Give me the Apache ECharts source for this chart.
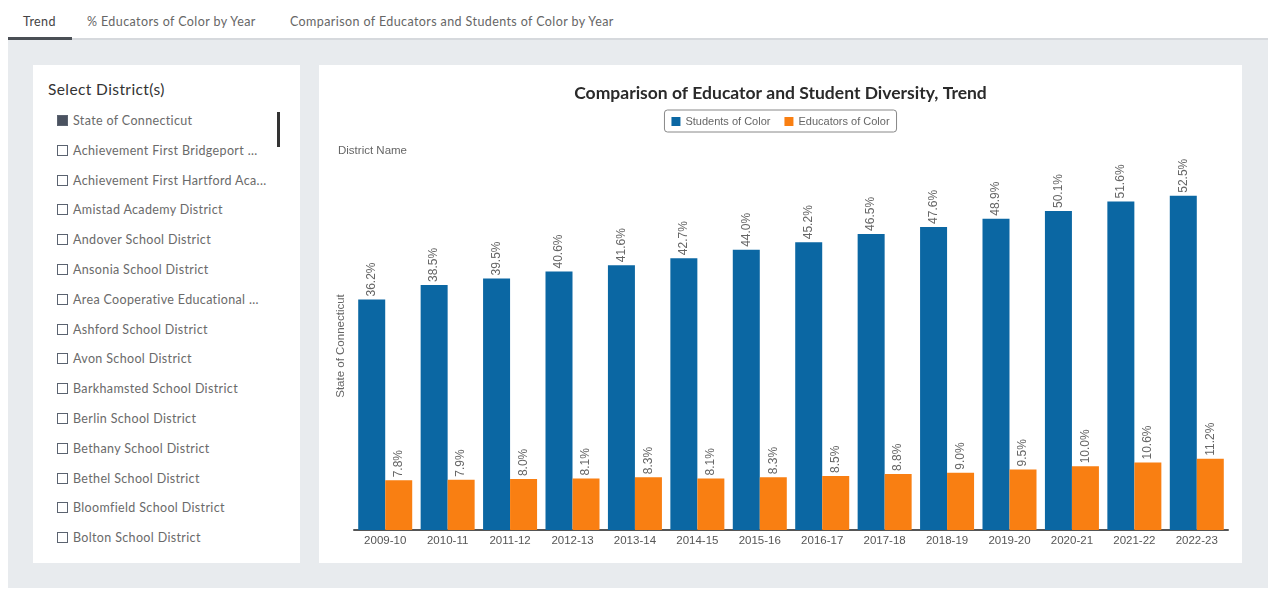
<!DOCTYPE html>
<html><head><meta charset="utf-8">
<script src="https://cdn.jsdelivr.net/npm/echarts@6/dist/echarts.min.js"></script>
<style>
html,body{margin:0;padding:0;background:#fff;width:1281px;height:590px;overflow:hidden;font-family:Lato,"Noto Sans",sans-serif;}
#tabs{position:absolute;left:8px;top:0;width:1260px;height:40px;}
.tab{position:absolute;top:14px;font-size:12.5px;letter-spacing:0.4px;color:#666;white-space:nowrap;}
#tabline{position:absolute;left:8px;top:38px;width:1260px;height:2px;background:#d6d9dd;}
#tabsel{position:absolute;left:8px;top:37px;width:64px;height:3px;background:#4a4f55;}
#bg{position:absolute;left:8px;top:40px;width:1260px;height:548px;background:#e8ebee;}
#left{position:absolute;left:33px;top:65px;width:267px;height:498px;background:#fff;}
#left h3{position:absolute;left:15px;top:15px;margin:0;font-size:15.5px;letter-spacing:0.4px;font-weight:400;color:#333;}
.item{position:absolute;left:24px;font-size:12.5px;letter-spacing:0.35px;color:#6a6a6a;white-space:nowrap;height:14px;line-height:14px;}
.box{display:inline-block;width:9px;height:9px;border:1.5px solid #5b6370;vertical-align:-1px;margin-right:5px;box-sizing:content-box;}
.box.on{background:#4a5260;}
#scroll{position:absolute;left:244px;top:47px;width:3px;height:35px;background:#333;}
#card{position:absolute;left:319px;top:65px;width:923px;height:498px;background:#fff;}
#chart{width:923px;height:498px;}
</style></head>
<body>
<div id="tabs"></div>
<div id="tabline"></div><div id="tabsel"></div>
<div id="bg"></div>
<div id="left"><h3>Select District(s)</h3><div id="scroll"></div></div>
<div id="card"><div id="chart"></div></div>
<script>
const tabs = ["Trend", "% Educators of Color by Year", "Comparison of Educators and Students of Color by Year"];
const tabX = [23, 87, 290];
const districts = ["State of Connecticut","Achievement First Bridgeport ...","Achievement First Hartford Aca...","Amistad Academy District","Andover School District","Ansonia School District","Area Cooperative Educational ...","Ashford School District","Avon School District","Barkhamsted School District","Berlin School District","Bethany School District","Bethel School District","Bloomfield School District","Bolton School District"];
const years = ["2009-10","2010-11","2011-12","2012-13","2013-14","2014-15","2015-16","2016-17","2017-18","2018-19","2019-20","2020-21","2021-22","2022-23"];
const students = [36.2,38.5,39.5,40.6,41.6,42.7,44.0,45.2,46.5,47.6,48.9,50.1,51.6,52.5];
const educators = [7.8,7.9,8.0,8.1,8.3,8.1,8.3,8.5,8.8,9.0,9.5,10.0,10.6,11.2];

const tabsEl = document.getElementById('tabs');
tabs.forEach((t,i)=>{const d=document.createElement('div');d.className='tab';d.style.left=(tabX[i]-8)+'px';d.textContent=t;if(i===0)d.style.color='#444';tabsEl.appendChild(d);});
const left = document.getElementById('left');
districts.forEach((n,i)=>{const d=document.createElement('div');d.className='item';d.style.top=(49+i*29.8)+'px';d.innerHTML='<span class="box'+(i===0?' on':'')+'"></span>';d.appendChild(document.createTextNode(n));left.appendChild(d);});

const chart = echarts.init(document.getElementById('chart'));
const lblFont = '"Liberation Sans", Arial, sans-serif';
chart.setOption({
  animation:false,
  title:{text:'Comparison of Educator and Student Diversity, Trend',left:'center',top:14,textStyle:{fontFamily:'Lato, "Noto Sans", sans-serif',fontSize:17.5,fontWeight:'bold',color:'#2a2a2a'}},
  legend:{top:45,left:'center',itemWidth:9,itemHeight:9,itemGap:14,icon:'rect',borderColor:'#888',borderWidth:1,borderRadius:3,padding:[6,7,5,7],textStyle:{fontSize:11,color:'#666',fontFamily:lblFont},data:['Students of Color','Educators of Color']},
  graphic:[{type:'text',left:19,top:80,style:{text:'District Name',fontSize:11.5,fill:'#666',fontFamily:lblFont}}],
  grid:{left:35,right:14,bottom:33,top:83},
  xAxis:{type:'category',data:years,axisTick:{show:false},axisLine:{lineStyle:{color:'#555',width:2}},axisLabel:{fontSize:11.5,color:'#555',margin:5,fontFamily:lblFont}},
  yAxis:{type:'value',min:0,max:60,show:true,name:'State of Connecticut',nameLocation:'middle',nameGap:7,nameTextStyle:{fontSize:11.5,color:'#666',fontFamily:lblFont,padding:[0,14,0,0]},axisLine:{show:false},axisTick:{show:false},axisLabel:{show:false},splitLine:{show:false}},
  series:[
    {name:'Students of Color',type:'bar',data:students,barWidth:27,barGap:'0%',itemStyle:{color:'#0b67a3'},
     label:{show:true,position:'top',rotate:90,align:'left',verticalAlign:'middle',distance:3,fontSize:12,color:'#666',fontFamily:lblFont,formatter:p=>p.value.toFixed(1)+'%'}},
    {name:'Educators of Color',type:'bar',data:educators,barWidth:27,itemStyle:{color:'#f97f12'},
     label:{show:true,position:'top',rotate:90,align:'left',verticalAlign:'middle',distance:3,fontSize:12,color:'#666',fontFamily:lblFont,formatter:p=>p.value.toFixed(1)+'%'}}
  ]
});
</script>
</body></html>
